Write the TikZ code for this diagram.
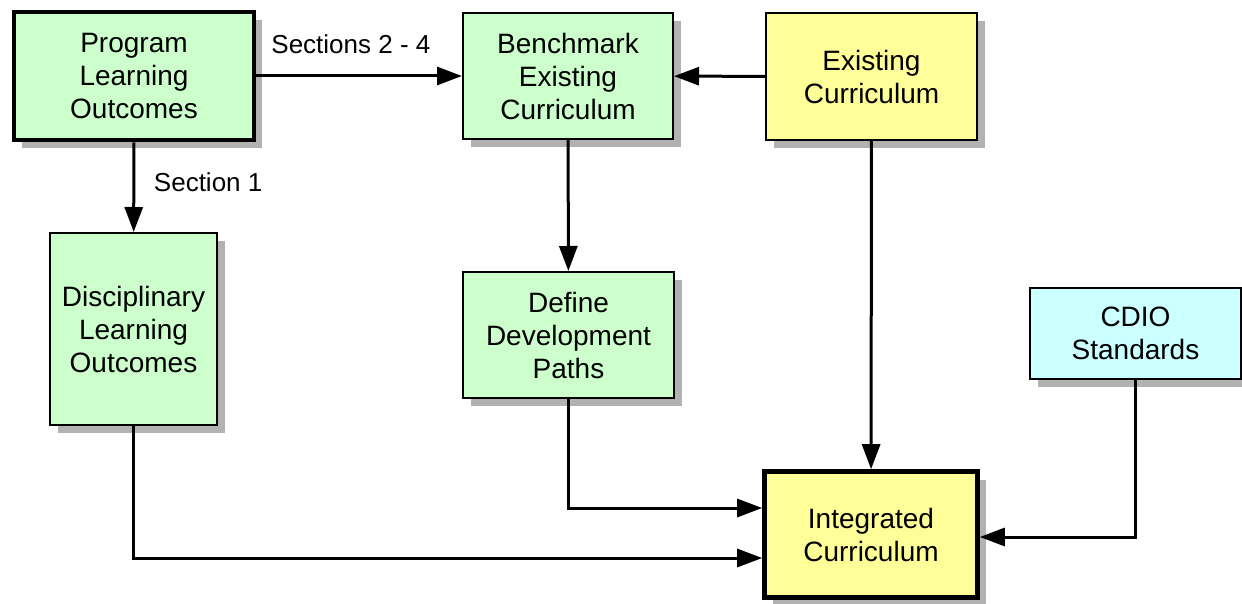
\documentclass[tikz,border=0pt]{standalone}
\usepackage{fontspec}
\setmainfont{Liberation Sans}
\usetikzlibrary{arrows.meta,shadows}
\definecolor{boxgreen}{HTML}{CCFFCC}
\definecolor{boxyellow}{HTML}{FFFF99}
\definecolor{boxcyan}{HTML}{CCFFFF}
\begin{document}
\begin{tikzpicture}[x=0.5pt,y=-0.5pt,
    font=\fontsize{14}{16.5}\selectfont,
    stage/.style={draw,line width=1pt,align=center,inner sep=0pt,
        drop shadow={shadow xshift=4pt,shadow yshift=-4pt,fill=black!30,opacity=1}},
    goal/.style={stage,line width=2.3pt},
    flow/.style={line width=1.5pt,-{Triangle[length=12.5pt,width=9pt]}},
    tag/.style={font=\fontsize{13}{15}\selectfont}]
        \useasboundingbox (0,0) rectangle (1242,604);
        \node[goal,fill=boxgreen,minimum width=120pt,minimum height=64pt] (plo) at (134,76)
            {Program\\Learning\\Outcomes};
        \node[stage,fill=boxgreen,minimum width=105pt,minimum height=63pt] (bench) at (568,76)
            {Benchmark\\Existing\\Curriculum};
        \node[stage,fill=boxyellow,minimum width=105.5pt,minimum height=63.5pt] (exist) at (871.5,76.5)
            {Existing\\Curriculum};
        \node[stage,fill=boxgreen,minimum width=83.5pt,minimum height=96pt] (disc) at (133.5,329)
            {Disciplinary\\Learning\\Outcomes};
        \node[stage,fill=boxgreen,minimum width=105.5pt,minimum height=63pt] (paths) at (568.5,335)
            {Define\\Development\\Paths};
        \node[stage,fill=boxcyan,minimum width=105.5pt,minimum height=45.5pt] (cdio) at (1135.5,333.5)
            {CDIO\\Standards};
        \node[goal,fill=boxyellow,minimum width=106.5pt,minimum height=63pt] (integ) at (871,534.5)
            {Integrated\\Curriculum};
        % connectors
        \draw[flow] (plo) -- node[tag,above=7pt,pos=0.46] (s24) {Sections 2 - 4} (bench);
        \draw[flow] (plo) -- node[tag,right=6pt,pos=0.44] (s1) {Section 1} (disc);
        \draw[flow] (exist) -- (bench);
        \draw[flow] (bench) -- (paths);
        \draw[flow] (exist) -- (integ);
        \draw[flow] (paths.south) |- ([yshift=13.25pt]integ.west);
        \draw[flow] (disc.south) |- ([yshift=-11.75pt]integ.west);
        \draw[flow] (cdio.south) |- ([yshift=-1.25pt]integ.east);
\end{tikzpicture}
\end{document}
